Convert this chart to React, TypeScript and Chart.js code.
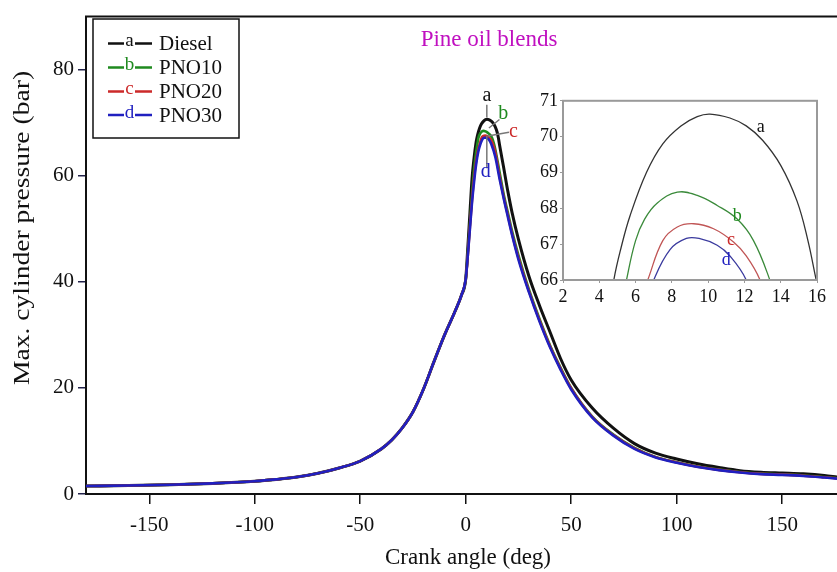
import React, { useEffect, useRef } from "react";
import { Chart, registerables } from "chart.js";
Chart.register(...registerables);

const SERIF = "'Liberation Serif', 'Times New Roman', serif";

// Compression stroke (shared by all fuels), crank angle (deg) / pressure (bar)
const compressionAngle = [-180, -160, -140, -120, -100, -90, -80, -70, -60, -50, -40, -35, -30, -25, -20, -15, -10, -5, -2, 0];
const compressionP = [1.5, 1.6, 1.75, 2.0, 2.4, 2.75, 3.2, 3.9, 4.9, 6.2, 8.5, 10.2, 12.5, 15.5, 19.8, 25, 30, 34.5, 37.5, 40.5];

// Combustion / expansion per fuel
const dieselAngle = [1, 2, 3, 4, 4.8, 5.2, 5.7, 6.6, 7.5, 8.5, 9.4, 10.1, 11.2, 12.1, 13, 14, 14.9, 15.5, 16, 18, 20, 22, 25, 30, 35, 40, 45, 50, 60, 70, 80, 90, 100, 110, 120, 130, 140, 150, 160, 170, 176];
const dieselP = [46.5, 53, 59.5, 63.5, 66, 66.9, 67.8, 69.0, 69.8, 70.3, 70.56, 70.63, 70.52, 70.3, 69.9, 69.2, 68.2, 67.1, 65.9, 61.5, 57, 53, 48, 41, 35.5, 30.5, 25.5, 21.5, 16.2, 12.4, 9.5, 7.7, 6.6, 5.7, 5.0, 4.4, 4.1, 3.95, 3.8, 3.5, 3.2];

const pno10Angle = [1, 2, 3, 4, 5, 5.5, 6, 6.5, 7.2, 8.3, 9.4, 10.5, 11.6, 12.5, 13.4, 14, 16, 18, 20, 22, 25, 30, 35, 40, 45, 50, 60, 70, 80, 90, 100, 110, 120, 130, 140, 150, 160, 170, 176];
const pno10P = [45.5, 51, 56.5, 61.5, 64.7, 66, 67.1, 67.7, 68.15, 68.45, 68.36, 68.08, 67.7, 67.1, 66, 65.0, 60.8, 56.5, 53, 49.5, 45, 38.5, 33, 28, 23.8, 20, 14.6, 11.2, 8.7, 7.0, 6.0, 5.2, 4.6, 4.15, 3.85, 3.7, 3.5, 3.2, 3.0];

const pno20Angle = [1, 2, 3, 4, 5, 6, 6.67, 7.5, 8.3, 9.2, 10.3, 11.4, 12.1, 12.86, 14, 16, 18, 20, 22, 25, 30, 35, 40, 45, 50, 60, 70, 80, 90, 100, 110, 120, 130, 140, 150, 160, 170, 176];
const pno20P = [45, 50.5, 55.5, 59.8, 63, 65.1, 66, 67.1, 67.48, 67.57, 67.43, 67.06, 66.67, 66, 64.4, 60, 56, 52.5, 49, 44.5, 38.2, 32.7, 27.8, 23.6, 19.9, 14.5, 11.1, 8.6, 6.95, 5.95, 5.15, 4.55, 4.1, 3.8, 3.65, 3.45, 3.15, 2.95];

const pno30Angle = [1, 2, 3, 4, 5, 6, 7, 7.9, 8.8, 9.5, 10.5, 11.2, 12.1, 14, 16, 18, 20, 22, 25, 30, 35, 40, 45, 50, 60, 70, 80, 90, 100, 110, 120, 130, 140, 150, 160, 170, 176];
const pno30P = [45, 50, 55, 59, 62.3, 64.6, 66, 66.85, 67.16, 67.16, 66.97, 66.67, 66, 63.6, 59.5, 55.7, 52.2, 48.8, 44.2, 38, 32.5, 27.6, 23.4, 19.7, 14.4, 11.0, 8.5, 6.9, 5.9, 5.1, 4.5, 4.05, 3.75, 3.6, 3.4, 3.1, 2.9];

const seriesNames = ["Diesel", "PNO10", "PNO20", "PNO30"];
const seriesLetters = ["a", "b", "c", "d"];
const seriesColors = ["#111111", "#1f8a1f", "#cc2a2a", "#2020c0"];
const insetColors = ["#333333", "#3a8a3a", "#c05555", "#3a3a9e"];

const xTicks = [-150, -100, -50, 0, 50, 100, 150];
const yTicks = [0, 20, 40, 60, 80];
const insetXTicks = [2, 4, 6, 8, 10, 12, 14, 16];
const insetYTicks = [66, 67, 68, 69, 70, 71];

const titleText = "Pine oil blends";
const xTitle = "Crank angle (deg)";
const yTitle = "Max. cylinder pressure (bar)";

function buildPoints(angles: number[], p: number[]) {
  const pts = compressionAngle.map((x, i) => ({ x, y: compressionP[i] }));
  return pts.concat(angles.map((x, i) => ({ x, y: p[i] })));
}

const seriesData = [
  buildPoints(dieselAngle, dieselP),
  buildPoints(pno10Angle, pno10P),
  buildPoints(pno20Angle, pno20P),
  buildPoints(pno30Angle, pno30P),
];

const mainOverlay = {
  id: "mainOverlay",
  afterDraw(chart: any) {
    const ctx = chart.ctx;
    const { left, right, top } = chart.chartArea;
    const xs = chart.scales.x;
    const ys = chart.scales.y;
    ctx.save();
    // top border
    ctx.strokeStyle = "#111";
    ctx.lineWidth = 2;
    ctx.beginPath();
    ctx.moveTo(left - 1, top);
    ctx.lineTo(right, top);
    ctx.stroke();

    // axis titles
    ctx.fillStyle = "#111";
    ctx.font = `23px ${SERIF}`;
    ctx.textAlign = "center";
    ctx.textBaseline = "middle";
    ctx.fillText(xTitle, 468, 558);
    ctx.save();
    ctx.translate(23, 228);
    ctx.rotate(-Math.PI / 2);
    ctx.scale(1.2, 1);
    ctx.fillText(yTitle, 0, 0);
    ctx.restore();

    // figure title
    ctx.fillStyle = "#c010c0";
    ctx.font = `23px ${SERIF}`;
    ctx.fillText(titleText, 489, 40);

    // legend box
    ctx.strokeStyle = "#111";
    ctx.lineWidth = 1.5;
    ctx.strokeRect(93, 19, 146, 119);
    const rows = [43.5, 67.5, 91.5, 115];
    seriesNames.forEach((name, i) => {
      const y = rows[i];
      ctx.strokeStyle = seriesColors[i];
      ctx.lineWidth = 2.5;
      ctx.beginPath();
      ctx.moveTo(108, y);
      ctx.lineTo(124, y);
      ctx.moveTo(135, y);
      ctx.lineTo(152, y);
      ctx.stroke();
      ctx.fillStyle = seriesColors[i];
      ctx.font = `19px ${SERIF}`;
      ctx.textAlign = "center";
      ctx.fillText(seriesLetters[i], 129.5, y - 2);
      ctx.fillStyle = "#111";
      ctx.font = `21px ${SERIF}`;
      ctx.textAlign = "left";
      ctx.fillText(name, 159, y + 1);
    });

    // peak annotations
    const px = (v: number) => xs.getPixelForValue(v);
    const py = (v: number) => ys.getPixelForValue(v);
    ctx.strokeStyle = "#777";
    ctx.lineWidth = 1.5;
    ctx.beginPath();
    ctx.moveTo(px(10), py(73.4));
    ctx.lineTo(px(10), py(71));
    ctx.moveTo(px(16), py(70.6));
    ctx.lineTo(px(11), py(69));
    ctx.moveTo(px(20.5), py(68.2));
    ctx.lineTo(px(10.5), py(67.5));
    ctx.moveTo(px(10), py(61.4));
    ctx.lineTo(px(10), py(67.6));
    ctx.stroke();
    ctx.font = `20px ${SERIF}`;
    ctx.textAlign = "center";
    const labs: [number, number][] = [[10, 75], [17.8, 71.6], [22.6, 68.3], [9.5, 60.8]];
    labs.forEach(([x, y], i) => {
      ctx.fillStyle = i === 0 ? "#111" : seriesColors[i];
      ctx.fillText(seriesLetters[i], px(x), py(y));
    });
    ctx.restore();
  },
};

const insetOverlay = {
  id: "insetOverlay",
  afterDraw(chart: any) {
    const ctx = chart.ctx;
    const { left, right, top, bottom } = chart.chartArea;
    const xs = chart.scales.x;
    const ys = chart.scales.y;
    ctx.save();
    ctx.strokeStyle = "#9a9a9a";
    ctx.lineWidth = 2;
    ctx.strokeRect(left, top, right - left, bottom - top);
    ctx.font = `18px ${SERIF}`;
    ctx.textAlign = "center";
    ctx.textBaseline = "middle";
    const labs: [number, number][] = [[12.9, 70.25], [11.6, 67.77], [11.26, 67.1], [11.0, 66.55]];
    labs.forEach(([x, y], i) => {
      ctx.fillStyle = i === 0 ? "#111" : seriesColors[i];
      ctx.fillText(seriesLetters[i], xs.getPixelForValue(x), ys.getPixelForValue(y));
    });
    ctx.restore();
  },
};

export default function App() {
  const mainRef = useRef<HTMLCanvasElement | null>(null);
  const insetRef = useRef<HTMLCanvasElement | null>(null);

  useEffect(() => {
    document.body.style.margin = "0";
    const mainChart = new Chart(mainRef.current as HTMLCanvasElement, {
      type: "line",
      data: {
        datasets: seriesData.map((d, i) => ({
          label: seriesNames[i],
          data: d,
          borderColor: seriesColors[i],
          borderWidth: i === 0 ? 3 : 2.6,
          pointRadius: 0,
          fill: false,
          order: 3 - i,
          cubicInterpolationMode: "monotone" as const,
        })),
      },
      options: {
        animation: false,
        responsive: false,
        maintainAspectRatio: false,
        parsing: false,
        layout: { padding: { top: 15, right: 0, left: 0, bottom: 0 } },
        plugins: { legend: { display: false }, tooltip: { enabled: false }, title: { display: false } },
        scales: {
          x: {
            type: "linear",
            min: -180,
            max: 176,
            afterBuildTicks: (s: any) => {
              s.ticks = xTicks.map((v) => ({ value: v }));
            },
            afterFit: (s: any) => {
              s.height = 78;
            },
            grid: { drawOnChartArea: false, drawTicks: true, tickLength: 10, color: "#111", lineWidth: 1.5 },
            border: { display: true, color: "#111", width: 2 },
            ticks: { font: { family: SERIF, size: 21 }, color: "#111", padding: 9, maxRotation: 0, autoSkip: false },
          },
          y: {
            type: "linear",
            min: 0,
            max: 90,
            afterBuildTicks: (s: any) => {
              s.ticks = yTicks.map((v) => ({ value: v }));
            },
            afterFit: (s: any) => {
              s.width = 86;
            },
            grid: { drawOnChartArea: false, drawTicks: true, tickLength: 8, color: "#22224a", lineWidth: 1.5 },
            border: { display: true, color: "#111", width: 2 },
            ticks: { font: { family: SERIF, size: 21 }, color: "#111", padding: 4, autoSkip: false },
          },
        },
      },
      plugins: [mainOverlay],
    });

    const insetChart = new Chart(insetRef.current as HTMLCanvasElement, {
      type: "line",
      data: {
        datasets: seriesData.map((d, i) => ({
          label: seriesNames[i],
          data: d,
          borderColor: insetColors[i],
          borderWidth: 1.3,
          pointRadius: 0,
          fill: false,
          order: 3 - i,
          tension: 0.4,
        })),
      },
      options: {
        animation: false,
        responsive: false,
        maintainAspectRatio: false,
        parsing: false,
        layout: { padding: { top: 12, right: 13, left: 0, bottom: 0 } },
        plugins: { legend: { display: false }, tooltip: { enabled: false } },
        scales: {
          x: {
            type: "linear",
            min: 2,
            max: 16,
            afterBuildTicks: (s: any) => {
              s.ticks = insetXTicks.map((v) => ({ value: v }));
            },
            afterFit: (s: any) => {
              s.height = 28;
            },
            grid: { drawOnChartArea: false, drawTicks: true, tickLength: 3, color: "#9a9a9a" },
            border: { display: true, color: "#9a9a9a", width: 2 },
            ticks: { font: { family: SERIF, size: 18 }, color: "#111", padding: 3, maxRotation: 0, autoSkip: false },
          },
          y: {
            type: "linear",
            min: 66,
            max: 71,
            afterBuildTicks: (s: any) => {
              s.ticks = insetYTicks.map((v) => ({ value: v }));
            },
            afterFit: (s: any) => {
              s.width = 43;
            },
            grid: { drawOnChartArea: false, drawTicks: true, tickLength: 3, color: "#9a9a9a" },
            border: { display: true, color: "#9a9a9a", width: 2 },
            ticks: { font: { family: SERIF, size: 18 }, color: "#111", padding: 2, autoSkip: false },
          },
        },
      },
      plugins: [insetOverlay],
    });

    return () => {
      mainChart.destroy();
      insetChart.destroy();
    };
  }, []);

  return (
    <div style={{ position: "relative", width: 837, height: 572, background: "#fff" }}>
      <canvas ref={mainRef} width={837} height={572} style={{ position: "absolute", left: 0, top: 0, width: 837, height: 572 }} />
      <canvas ref={insetRef} width={310} height={220} style={{ position: "absolute", left: 520, top: 88, width: 310, height: 220 }} />
    </div>
  );
}
